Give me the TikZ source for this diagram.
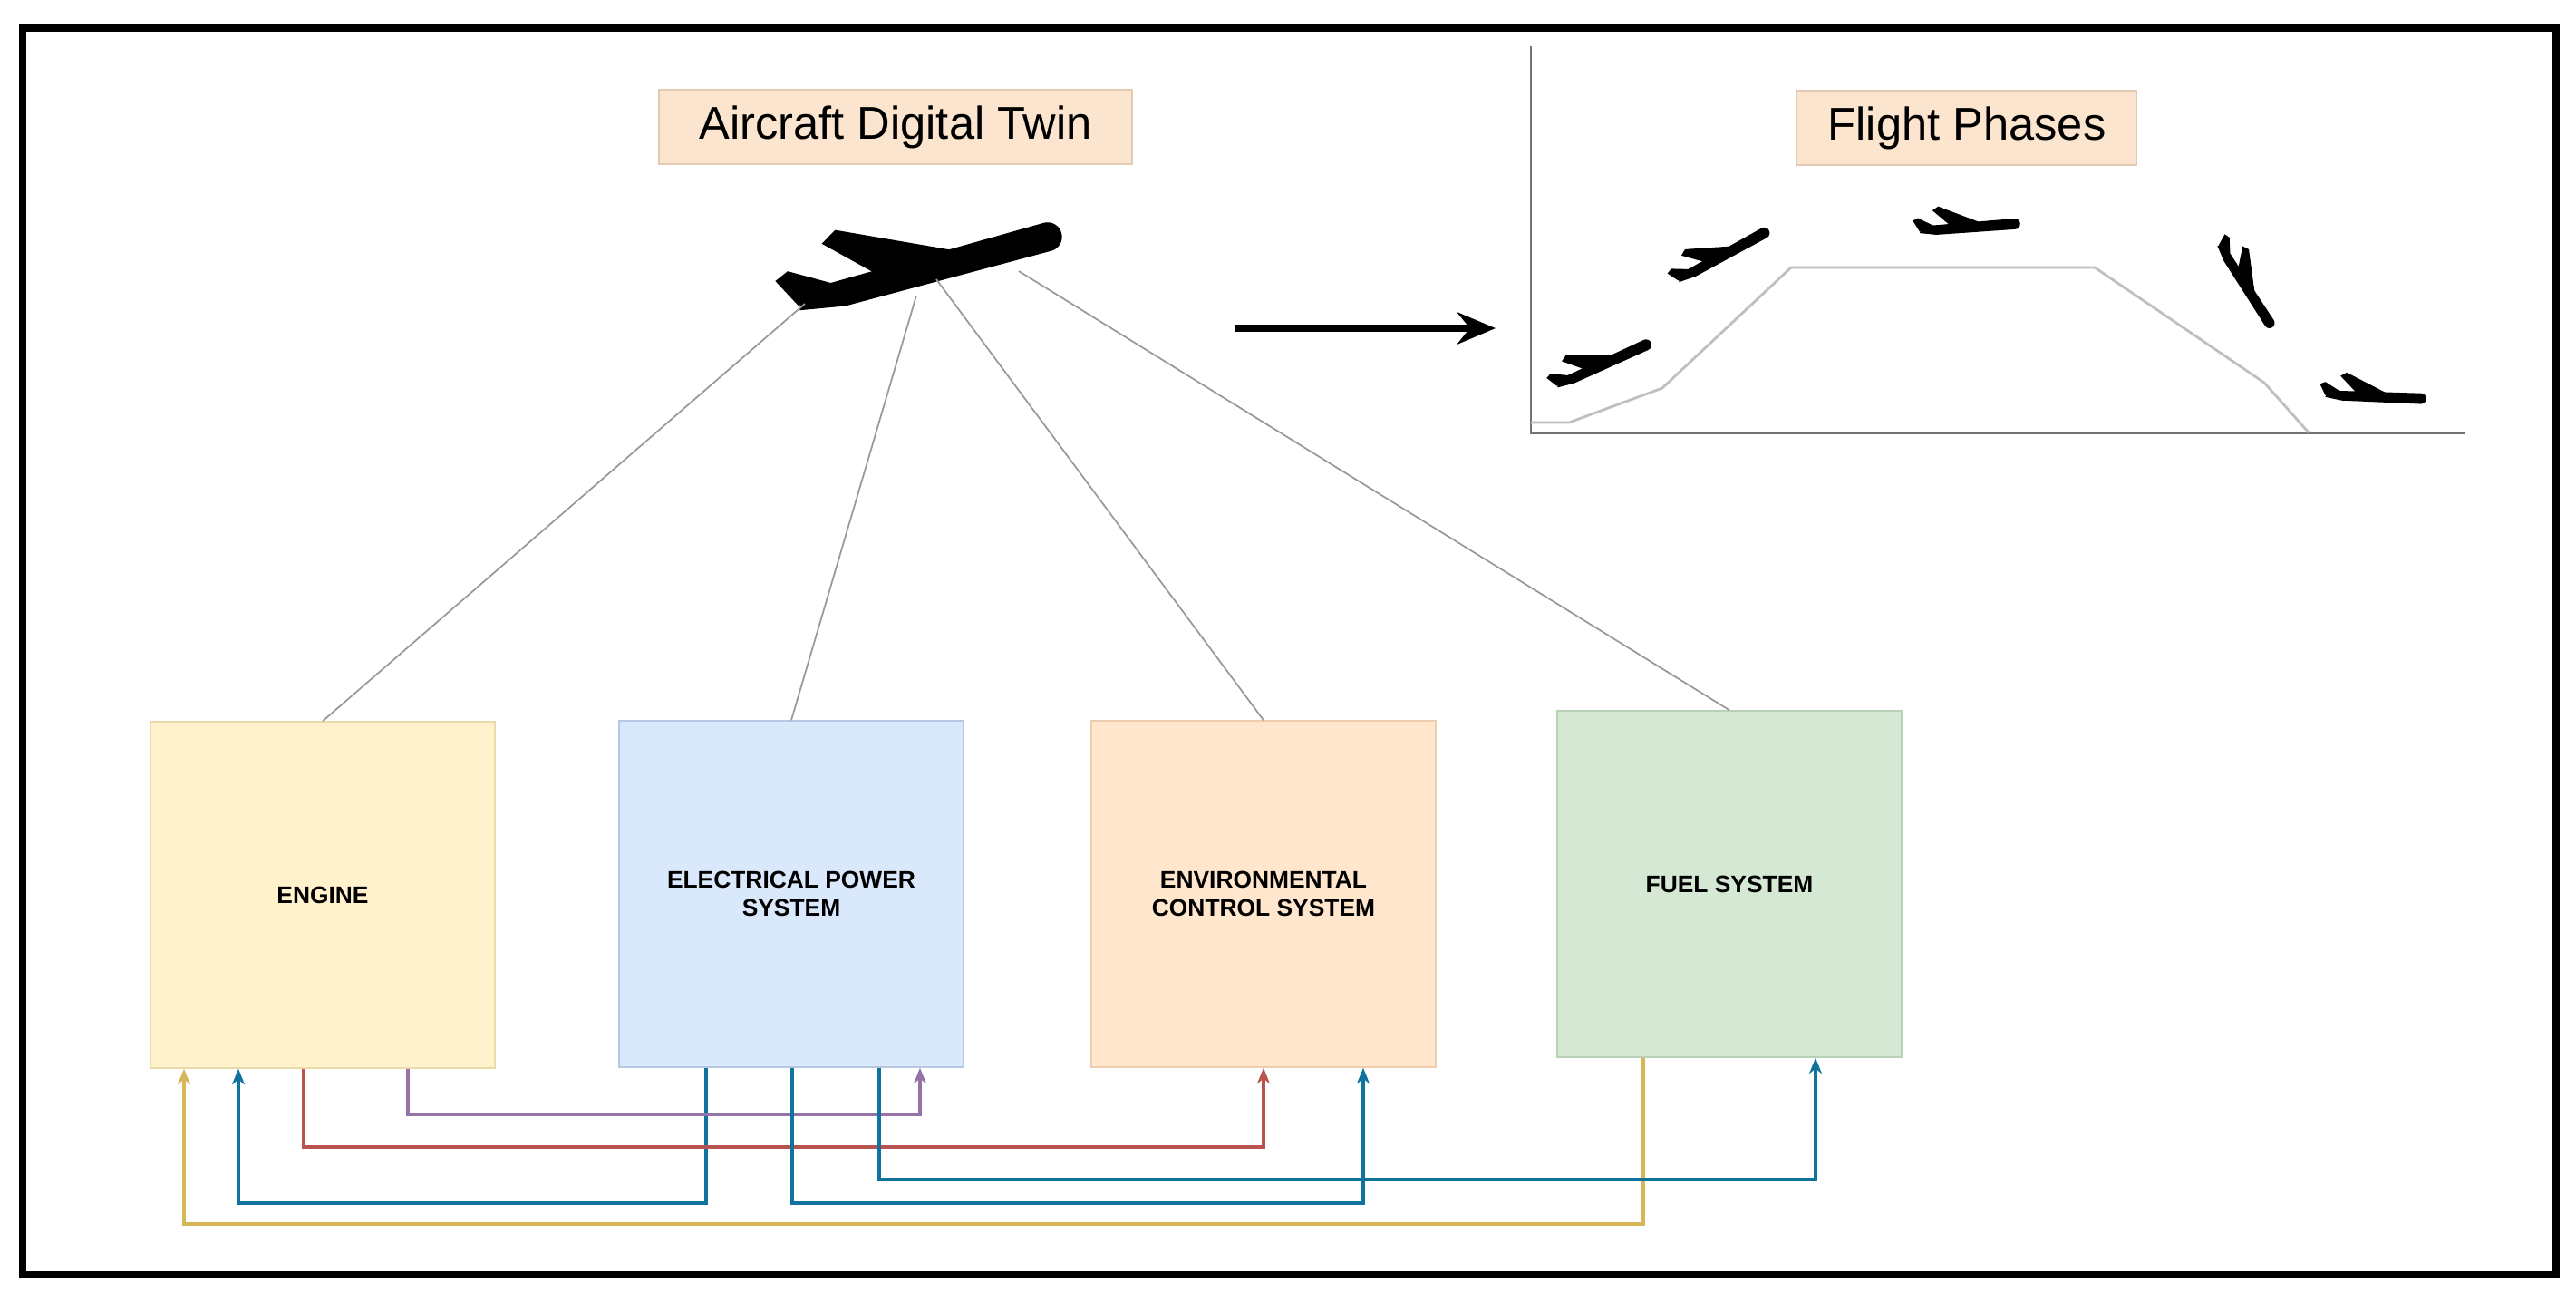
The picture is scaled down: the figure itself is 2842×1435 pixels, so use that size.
\documentclass[tikz,border=0pt]{standalone}
\usepackage{fontspec}
\setmainfont{Liberation Sans}
\usetikzlibrary{arrows.meta,positioning}
\definecolor{engfill}{HTML}{FFF2CC}\definecolor{engdraw}{HTML}{EADBA8}
\definecolor{epsfill}{HTML}{DAE8FC}\definecolor{epsdraw}{HTML}{B7C9E2}
\definecolor{ecsfill}{HTML}{FFE6CC}\definecolor{ecsdraw}{HTML}{EDCDAE}
\definecolor{fuelfill}{HTML}{D5E8D4}\definecolor{fueldraw}{HTML}{B9D1B6}
\definecolor{tagfill}{HTML}{FCE5CE}\definecolor{tagdraw}{HTML}{E3CBB2}
\definecolor{cyel}{HTML}{D6B656}\definecolor{cblue}{HTML}{10739E}
\definecolor{cred}{HTML}{B85450}\definecolor{cpur}{HTML}{9673A6}
\tikzset{
  sysbox/.style={draw, minimum width=380*0.01cm, minimum height=382*0.01cm, align=center, font=\fontsize{7.5}{9}\selectfont\bfseries},
  tag/.style={fill=tagfill, draw=tagdraw, inner sep=0pt, minimum height=82*0.01cm, font=\fontsize{14.4}{16}\selectfont},
  link/.style={line width=1pt, -{Stealth[length=5pt,width=4pt]}},
  tie/.style={gray!80, line width=0.5pt},
  plane/.pic={
    \fill (-150,10) -- (-142,-10) -- (135,-16) arc[start angle=-90,end angle=90,radius=16] -- (-100,18) -- cycle;
    \fill (-50,0) -- (-108,-55) -- (-90,-66) -- (30,-12) -- cycle;
    \fill (-150,5) -- (-168,-28) -- (-152,-35) -- (-108,-10) -- cycle;
  }
}
\begin{document}
\begin{tikzpicture}[x=0.01cm,y=-0.01cm]
\useasboundingbox (0,0) rectangle (2842,1435);
\draw[line width=2.5pt] (25,31) rectangle (2820,1406);
% titles
\node (twin) [tag, minimum width=522*0.01cm] at (988,140) {Aircraft Digital Twin};
\node (phases) [tag, minimum width=375*0.01cm] at (2170,141) {Flight Phases};
% aircraft
\pic[rotate=14.5] at (1025,295) {plane};
\coordinate (p1) at (888,335);
\coordinate (p2) at (1011,326);
\coordinate (p3) at (1033,308);
\coordinate (p4) at (1124,299);
% flight phase chart
\coordinate (ax0) at (1689,478);
\coordinate (axt) at (1689,51);
\coordinate (axr) at (2719,478);
\draw[gray!90!black, line width=0.6pt] (axt) -- (ax0) -- (axr);
\draw[gray!50, line width=0.8pt] (1689,466) -- (1731,466) -- (1834,428) -- (1976,295) -- (2311,295) -- (2498,422) -- (2547,477);
\pic[rotate=23.7, scale=0.38] at (1769,401) {plane};
\pic[rotate=28, scale=0.38] at (1901,281) {plane};
\pic[rotate=3.5, scale=0.37] at (2173,250) {plane};
\pic[rotate=-58, scale=0.36] at (2478,315) {plane};
\pic[rotate=-3, scale=0.37] at (2621,437) {plane};
\coordinate (arrA) at (1363,362);
\coordinate (arrB) at (1650,362);
\draw[line width=2.5pt, -{Stealth[length=12pt,width=10pt]}] (arrA) -- (arrB);
% subsystems
\node (eng) [sysbox, fill=engfill, draw=engdraw] at (356,987) {ENGINE};
\node (eps) [sysbox, fill=epsfill, draw=epsdraw] at (873,986) {ELECTRICAL POWER\\SYSTEM};
\node (ecs) [sysbox, fill=ecsfill, draw=ecsdraw] at (1394,986) {ENVIRONMENTAL\\CONTROL SYSTEM};
\node (fuel) [sysbox, fill=fuelfill, draw=fueldraw] at (1908,975) {FUEL SYSTEM};
\draw[tie] (p1) -- (eng.north);
\draw[tie] (p2) -- (eps.north);
\draw[tie] (p3) -- (ecs.north);
\draw[tie] (p4) -- (fuel.north);
% links
\draw[link, cyel] (fuel.south -| 1813,0) -- (1813,1350) -- (203,1350) -- (eng.south -| 203,0);
\draw[link, cblue] (eps.south -| 779,0) -- (779,1327) -- (263,1327) -- (eng.south -| 263,0);
\draw[link, cred] (eng.south -| 335,0) -- (335,1265) -- (1394,1265) -- (ecs.south -| 1394,0);
\draw[link, cpur] (eng.south -| 450,0) -- (450,1229) -- (1015,1229) -- (eps.south -| 1015,0);
\draw[link, cblue] (eps.south -| 874,0) -- (874,1327) -- (1504,1327) -- (ecs.south -| 1504,0);
\draw[link, cblue] (eps.south -| 970,0) -- (970,1301) -- (2003,1301) -- (fuel.south -| 2003,0);
\end{tikzpicture}
\end{document}
